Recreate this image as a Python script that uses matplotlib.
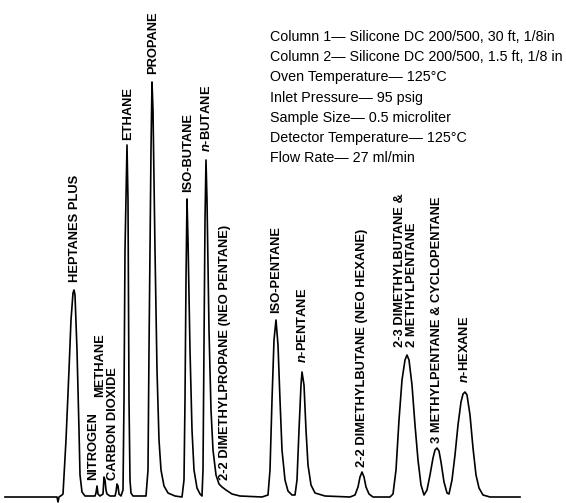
import matplotlib
matplotlib.use("Agg")
from matplotlib import pyplot as plt

plt.rcParams['font.family'] = ['Liberation Sans', 'DejaVu Sans']
plt.rcParams['mathtext.fontset'] = 'custom'
plt.rcParams['mathtext.it'] = 'Liberation Sans:italic:bold'
plt.rcParams['mathtext.rm'] = 'Liberation Sans:bold'

# detector trace (time, response)
tempo = [5, 57, 58, 59, 62,
         63, 66, 69, 71, 73, 74, 75, 77, 79, 80, 82, 85,
         95, 96, 97, 98, 100, 103,
         104, 105, 106, 107, 110, 115, 116,
         117, 118, 119, 121, 123,
         124, 125, 127, 128, 129, 130, 131, 133, 146,
         148, 149, 151, 152, 153, 155, 157, 159, 161, 164, 168, 175, 182,
         184, 185, 186, 187, 188, 190, 192, 194, 197, 200, 202,
         203, 204, 205, 206, 207, 209, 211, 213, 216, 219, 222, 226, 232, 240, 262,
         268, 270, 272, 274, 276, 278, 280, 282, 285, 288, 292, 295,
         297, 299, 301, 302, 304, 306, 308, 311, 315, 325, 350,
         355, 358, 360, 362, 364, 366, 369, 373, 390,
         393, 396, 399, 402, 405, 407, 409, 412, 415, 418, 421, 424,
         427, 430, 433, 435, 437, 439, 441, 444, 447, 449,
         452, 455, 458, 461, 463, 465, 467, 470, 473, 476, 479, 483, 490, 520]
sinal = [0, 0, -5, 0, 2,
         3, 57, 127, 177, 204, 207, 202, 147, 67, 22, 5, 1,
         1, 4, 11, 3, 1, 3,
         20, 17, 7, 3, 1, 1, 5,
         13, 11, 3, 1, 7,
         97, 247, 352, 297, 97, 17, 4, 1, 1,
         27, 147, 347, 415, 387, 247, 127, 57, 27, 11, 4, 1, 0,
         17, 97, 217, 298, 257, 147, 67, 27, 9, 3, 1,
         27, 147, 277, 337, 297, 167, 87, 47, 22, 13, 10, 7, 3, 1, 0,
         2, 27, 97, 157, 177, 152, 97, 47, 17, 6, 2, 2,
         17, 67, 112, 125, 112, 67, 32, 12, 4, 1, 0,
         2, 10, 20, 25, 20, 10, 3, 0, 0,
         3, 27, 77, 117, 137, 142, 137, 112, 72, 37, 12, 2,
         7, 22, 39, 47, 49, 46, 35, 15, 4, 3,
         17, 42, 72, 95, 103, 105, 102, 82, 49, 22, 9, 2, 0, 0]

# peak names and apex (time, response)
picos = ['HEPTANES PLUS', 'NITROGEN', 'METHANE', 'CARBON DIOXIDE', 'ETHANE',
         'PROPANE', 'ISO-BUTANE', r'$\mathit{n}$-BUTANE',
         '2-2 DIMETHYLPROPANE (NEO PENTANE)', 'ISO-PENTANE', r'$\mathit{n}$-PENTANE',
         '2-2 DIMETHYLBUTANE (NEO HEXANE)', '2-3 DIMETHYLBUTANE &\n2 METHYLPENTANE',
         '3 METHYLPENTANE & CYCLOPENTANE', r'$\mathit{n}$-HEXANE']
t_picos = [74, 97, 104, 118, 127, 152, 187, 206, 222, 276, 302, 362, 407, 437, 465]
h_picos = [207, 11, 20, 13, 352, 415, 298, 337, 10, 177, 125, 25, 142, 49, 105]

# label offsets from apex, pixels
desloc = [(1, 8), (-4, 6), (-4, 80), (-5, 4), (1, 5), (1, 8), (1, 7), (1, 8),
          (3, 7), (0, 7), (1, 9), (0, 5), (-1, 8), (0, 5), (0, 9)]

condicoes = ['Column 1\u2014 Silicone DC 200/500, 30 ft, 1/8in',
             'Column 2\u2014 Silicone DC 200/500, 1.5 ft, 1/8 in',
             'Oven Temperature\u2014 125\u00b0C',
             'Inlet Pressure\u2014 95 psig',
             'Sample Size\u2014 0.5 microliter',
             'Detector Temperature\u2014 125\u00b0C',
             'Flow Rate\u2014 27 ml/min']

fig = plt.figure(figsize=(5.66, 5.03), dpi=100)
ax = fig.add_axes([0, 0, 1, 1])
ax.plot(tempo, sinal, color='black', lw=1.2, solid_joinstyle='round')
ax.set_xlim(0, 566)
ax.set_ylim(-6, 497)
ax.axis('off')

for nome, t, h, (dx, dy) in zip(picos, t_picos, h_picos, desloc):
    ax.annotate(nome, xy=(t, h), xytext=(dx, dy), textcoords='offset pixels',
                rotation=90, ha='center', va='bottom', multialignment='left',
                fontsize=9.3, fontweight='bold', linespacing=1.0)

for i, linha in enumerate(condicoes):
    ax.text(0.477, 1 - (37 + 20.2 * i) / 503, linha, transform=ax.transAxes,
            ha='left', va='center', fontsize=10.3)

fig.savefig('out.png', dpi=100)
